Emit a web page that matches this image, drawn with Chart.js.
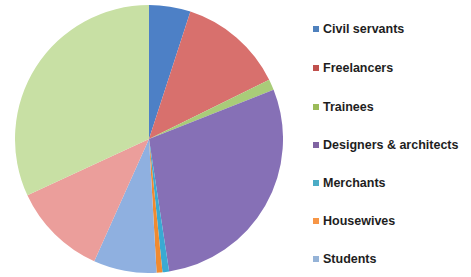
<!DOCTYPE html>
<html>
<head>
<meta charset="utf-8">
<script src="https://cdn.jsdelivr.net/npm/chart.js@4"></script>
<style>
  body { margin: 0; background: #fff; width: 471px; height: 277px; position: relative; overflow: hidden; }
  #pieBox { position: absolute; left: 15px; top: 5px; width: 268px; height: 268px; }
  #legend { position: absolute; left: 313px; top: 0; font-family: "Liberation Sans", Arial, sans-serif;
            font-size: 12.5px; font-weight: bold; color: #1e1e1e; }
  .item { position: absolute; left: 0; white-space: nowrap; display: flex; align-items: center; height: 14px; }
  .box { width: 6px; height: 6px; margin-right: 4px; }
</style>
</head>
<body>
<div id="pieBox"><canvas id="myChart"></canvas></div>
<div id="legend"></div>
<script>
// slices clockwise from 12 o'clock, the last two have no legend entry
const categories = ['Civil servants', 'Freelancers', 'Trainees', 'Designers & architects',
                    'Merchants', 'Housewives', 'Students', '', ''];
const shares = [5, 12.7, 1.3, 28.6, 0.8, 0.7, 7.6, 11.4, 31.9];
const sliceColors = ['#4d80c6', '#d8706d', '#a9cc79', '#8670b6', '#3aaad2', '#f08a30',
                     '#8fb0e0', '#eb9e9b', '#c8e0a4'];
const legendColors = ['#4f81bd', '#c0504d', '#9bbb59', '#8064a2', '#4bacc6', '#f79646', '#95b3d7'];

var ctx = document.getElementById('myChart').getContext('2d');
var chart = new Chart(ctx, {
    type: 'pie',
    data: {
        labels: categories,
        datasets: [{
            data: shares,
            backgroundColor: sliceColors,
            borderWidth: 0
        }]
    },
    options: {
        responsive: true,
        maintainAspectRatio: false,
        animation: false,
        layout: { padding: 0 },
        plugins: { legend: { display: false }, tooltip: { enabled: false } }
    }
});

// legend on the right, one row per named category
const legendDiv = document.getElementById('legend');
const rowY = [29, 68, 107, 145, 183, 221, 259];
categories.forEach((name, i) => {
    if (!name) return;
    const row = document.createElement('div');
    row.className = 'item';
    row.style.top = (rowY[i] - 7) + 'px';
    const box = document.createElement('span');
    box.className = 'box';
    box.style.background = legendColors[i];
    const label = document.createElement('span');
    label.textContent = name;
    row.append(box, label);
    legendDiv.append(row);
});
</script>
</body>
</html>
